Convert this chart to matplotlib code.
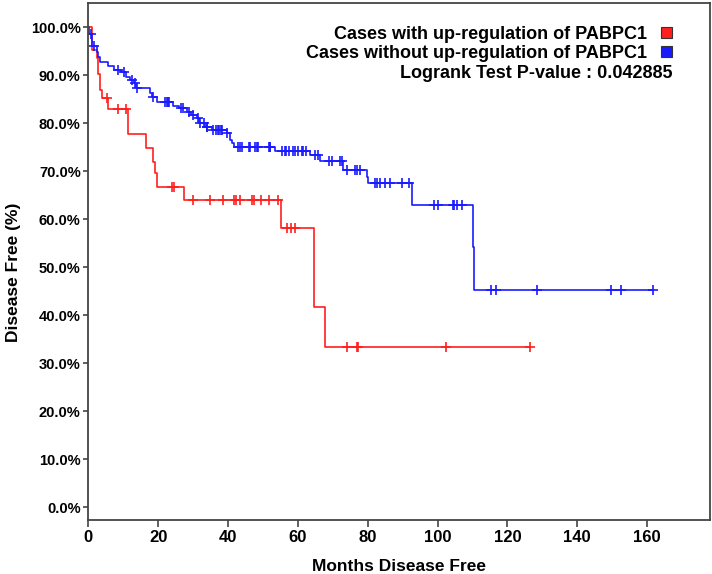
import numpy as np
import matplotlib
matplotlib.use("Agg")
import matplotlib.pyplot as plt
from matplotlib.patches import Patch
from matplotlib.ticker import FuncFormatter

# Kaplan-Meier steps (months, % disease free)
red_times = [0, 1.1, 2.4, 2.9, 3.4, 3.8, 5.7, 11.3, 16.5, 18.6, 19.1, 19.6, 27.5, 55.1, 64.7, 67.9]
red_surv = [100, 95.3, 93.5, 90.2, 87.0, 85.3, 82.9, 77.8, 74.8, 72.0, 69.6, 66.8, 64.0, 58.1, 41.8, 33.4]
red_censored = [5.3, 8.6, 10.7, 24.1, 24.6, 29.9, 34.9, 38.5, 41.8, 42.3, 43.3, 46.8, 47.3, 49.4,
                51.6, 54.4, 56.8, 58.0, 59.2, 74.2, 76.9, 77.3, 102.5, 126.4]

blue_times = [0, 0.2, 1.1, 2.4, 2.9, 3.4, 5.5, 7.5, 9.5, 10.8, 12.0, 13.0, 13.8, 17.7, 18.3, 19.6,
              24.3, 26.0, 28.2, 29.5, 31.0, 31.8, 33.5, 35.3, 39.6, 40.6, 41.1, 41.6, 53.5, 63.5,
              66.2, 73.0, 79.7, 80.2, 92.8, 110.1, 110.5]
blue_surv = [100, 98.7, 96.1, 94.9, 93.8, 92.8, 92.0, 91.1, 90.6, 89.6, 89.0, 88.3, 87.3, 86.2, 85.5, 84.5,
             83.6, 83.1, 82.4, 81.7, 81.0, 80.0, 79.3, 78.6, 77.9, 76.5, 75.8, 75.1, 74.2, 73.4,
             72.2, 70.3, 68.8, 67.6, 63.0, 54.3, 45.3]
blue_censored = [0.9, 1.7, 8.6, 10.3, 12.4, 13.4, 13.9, 18.6, 22.0, 22.5, 22.9, 23.2, 26.6, 27.2, 28.7,
                 30.1, 31.5, 32.0, 33.0, 33.9, 34.1, 35.8, 36.6, 37.0, 37.4, 37.9, 38.2, 39.7, 43.0,
                 43.5, 43.9, 45.9, 46.3, 47.8, 48.2, 48.7, 51.6, 51.9, 52.1, 55.4, 56.3, 56.7, 57.4,
                 58.7, 59.3, 60.1, 61.1, 61.6, 62.4, 65.0, 65.9, 69.0, 69.7, 72.1, 72.6, 74.0, 76.4,
                 76.9, 77.8, 82.1, 82.6, 83.6, 85.0, 86.4, 89.8, 91.7, 98.9, 100.0, 104.3, 104.6,
                 105.7, 107.0, 115.3, 116.7, 128.6, 149.7, 152.6, 161.6]

labels = ["Cases with up-regulation of PABPC1", "Cases without up-regulation of PABPC1"]
pvalue_text = "Logrank Test P-value : 0.042885"

RED = "#ff1f1f"
BLUE = "#1a1aff"
BOLD = ["Liberation Sans", "DejaVu Sans"]


def level_at(times, surv, t):
    idx = np.searchsorted(times, t, side="right") - 1
    return np.array(surv)[idx]


def draw_km(ax, times, surv, cens, color):
    end = max(cens[-1], times[-1])
    xs = list(times) + [end]
    ys = list(surv) + [surv[-1]]
    ax.step(xs, ys, where="post", color=color, lw=1.2)
    ax.plot(cens, level_at(times, surv, cens), linestyle="none", marker="+",
            ms=7.5, mew=1.2, color=color)


fig = plt.figure(figsize=(7.12, 5.74), dpi=100)
ax = fig.add_axes([88.3 / 712, 1 - 520 / 574, (710 - 88.3) / 712, (520 - 3.3) / 574])

draw_km(ax, red_times, red_surv, red_censored, RED)
draw_km(ax, blue_times, blue_surv, blue_censored, BLUE)

ax.set_xlim(0, 178)
ax.set_ylim(-2.7, 105)
ax.set_xticks(np.arange(0, 161, 20))
ax.set_yticks(np.arange(0, 101, 10))
ax.yaxis.set_major_formatter(FuncFormatter(lambda v, p: "%.1f%%" % v))

for s in ax.spines.values():
    s.set_color("#444444")
    s.set_linewidth(1.3)
ax.tick_params(axis="y", length=3.5, width=1.2, color="#444444", pad=2)
ax.tick_params(axis="x", length=5, width=1.2, color="#444444", pad=2)
for t in ax.get_yticklabels():
    t.set_family(BOLD)
    t.set_fontweight("bold")
    t.set_fontsize(10.5)
for t in ax.get_xticklabels():
    t.set_family(BOLD)
    t.set_fontweight("bold")
    t.set_fontsize(12)

ax.set_xlabel("Months Disease Free", family=BOLD, fontweight="bold", fontsize=12.5)
ax.xaxis.set_label_coords(0.5, -0.075)
ax.set_ylabel("Disease Free (%)", family=BOLD, fontweight="bold", fontsize=12.5)
ax.yaxis.set_label_coords(-0.108, 0.48)

handles = [Patch(facecolor=RED, edgecolor="#333333", lw=0.8),
           Patch(facecolor=BLUE, edgecolor="#333333", lw=0.8)]
leg = ax.legend(handles, labels, loc="upper right", bbox_to_anchor=(672 / 712, 1 - 26 / 574),
                bbox_transform=fig.transFigure, frameon=False, markerfirst=False,
                handlelength=0.6, handleheight=0.55, handletextpad=0.8, labelspacing=0.1,
                borderpad=0, borderaxespad=0,
                prop={"family": BOLD, "weight": "bold", "size": 13})

fig.text(673 / 712, 1 - 73 / 574, pvalue_text, ha="right", va="center",
         family=BOLD, fontweight="bold", fontsize=13)

fig.savefig("out.png", dpi=100)
